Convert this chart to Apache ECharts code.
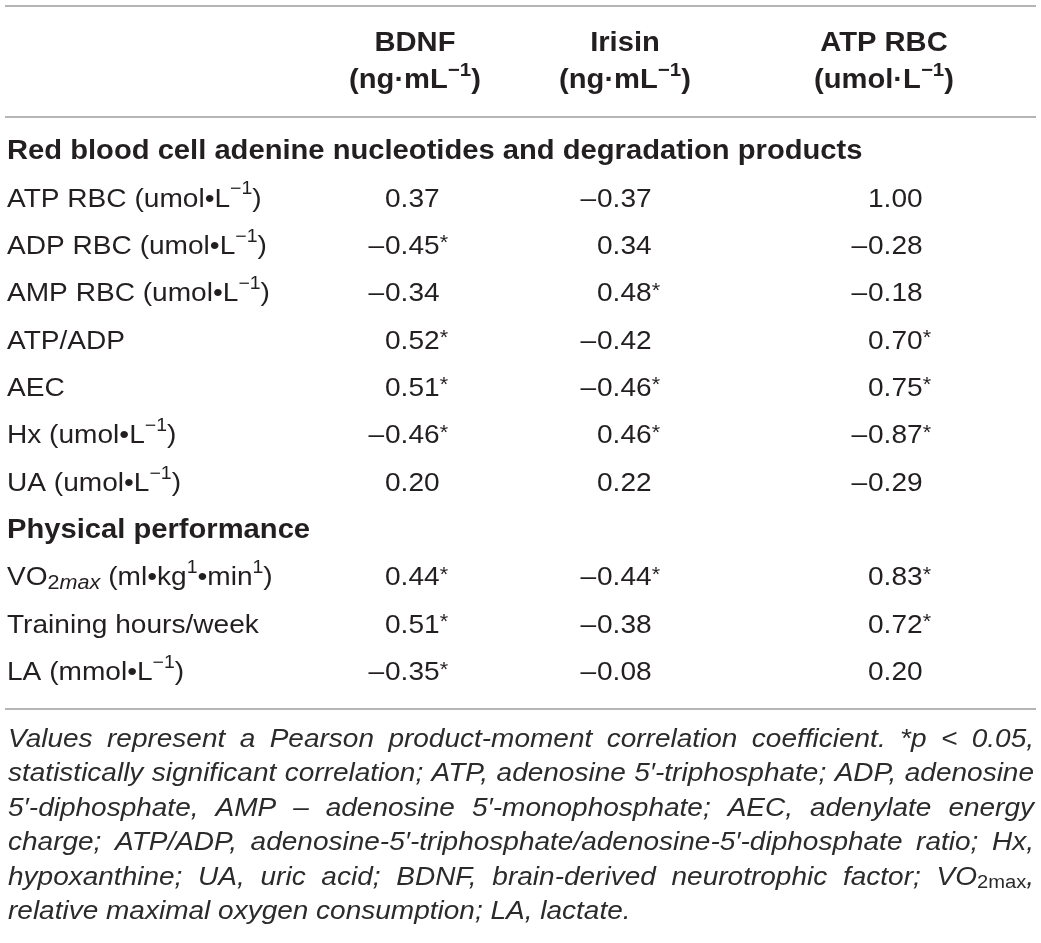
<!DOCTYPE html>
<html><head><meta charset="utf-8">
<script src="https://cdn.jsdelivr.net/npm/echarts@6/dist/echarts.min.js"></script>
<style>html,body{margin:0;padding:0;background:#fff}#c{width:1041px;height:943px}</style>
</head><body><div id="c"></div>
<script>
// ---------- data ----------
const columnHeaders = ['BDNF', 'Irisin', 'ATP RBC'];
const columnUnits = ['(ng·mL{sup|−1})', '(ng·mL{sup|−1})', '(umol·L{sup|−1})'];
const sectionTitles = ['Red blood cell adenine nucleotides and degradation products', 'Physical performance'];
const section1Rows = ['ATP RBC (umol•L{sup|−1})', 'ADP RBC (umol•L{sup|−1})', 'AMP RBC (umol•L{sup|−1})', 'ATP/ADP', 'AEC', 'Hx (umol•L{sup|−1})', 'UA (umol•L{sup|−1})'];
const section2Rows = ['VO{sub|2}{subi|max} (ml•kg{sup|1}•min{sup|1})', 'Training hours/week', 'LA (mmol•L{sup|−1})'];
const bdnf     = [0.37, -0.45, -0.34, 0.52, 0.51, -0.46, 0.20, 0.44, 0.51, -0.35];
const bdnfSig  = [0, 1, 0, 1, 1, 1, 0, 1, 1, 1];
const irisin    = [-0.37, 0.34, 0.48, -0.42, -0.46, 0.46, 0.22, -0.44, -0.38, -0.08];
const irisinSig = [0, 0, 1, 0, 1, 1, 0, 1, 0, 0];
const atpRbc    = [1.00, -0.28, -0.18, 0.70, 0.75, -0.87, -0.29, 0.83, 0.72, 0.20];
const atpRbcSig = [0, 0, 0, 1, 1, 1, 0, 1, 1, 0];
const footnoteLines = [
  'Values represent a Pearson product-moment correlation coefficient. *p < 0.05,',
  'statistically significant correlation; ATP, adenosine 5′-triphosphate; ADP, adenosine',
  '5′-diphosphate, AMP – adenosine 5′-monophosphate; AEC, adenylate energy',
  'charge; ATP/ADP, adenosine-5′-triphosphate/adenosine-5′-diphosphate ratio; Hx,',
  'hypoxanthine; UA, uric acid; BDNF, brain-derived neurotrophic factor; VO{sub|2max},',
  'relative maximal oxygen consumption; LA, lactate.'
];

// ---------- layout / style ----------
const W = 1041;
const FONT = "'Liberation Sans', Arial, Helvetica, sans-serif";
const INK = '#231f20';
const NOTE_INK = '#2b2b2b';
const SX = 1.08;
const NOTE_SX = 1.12;
const NOTE_FS = 25;
const colAnchor = [7, 385, 597, 868];
const headCenter = [415, 625, 884];
const ruleY = [6, 117, 709];
const ruleX = [5, 1036];
const noteLeft = 8, noteRight = 1034, noteTop = 740, notePitch = 34.4;

const labelRich = {
  sup:  {fontSize: 18, fontFamily: FONT, fill: INK, lineHeight: 18, verticalAlign: 'top'},
  sub:  {fontSize: 20, fontFamily: FONT, fill: INK, lineHeight: 27, verticalAlign: 'bottom', padding: [0, 0, 4, 0]},
  subi: {fontSize: 20, fontFamily: FONT, fontStyle: 'italic', fill: INK, lineHeight: 27, verticalAlign: 'bottom', padding: [0, 0, 4, 0]}
};
const numRich = {
  ast: {fontSize: 20, fontFamily: FONT, fill: INK, lineHeight: 20, verticalAlign: 'top'}
};

// ---------- build rows ----------
const rowNames = [sectionTitles[0], ...section1Rows, sectionTitles[1], ...section2Rows];
const cells = [];
const valueCols = [[bdnf, bdnfSig], [irisin, irisinSig], [atpRbc, atpRbcSig]];
let dataRow = 0;
rowNames.forEach((name, r) => {
  const isSection = sectionTitles.includes(name);
  cells.push({x: colAnchor[0], row: r, kind: isSection ? 'section' : 'label', text: name});
  if (!isSection) {
    valueCols.forEach(([vals, sig], ci) => {
      const v = vals[dataRow];
      cells.push({x: colAnchor[ci + 1], row: r, kind: 'num', neg: v < 0,
        text: Math.abs(v).toFixed(2) + (sig[dataRow] ? '{ast|*}' : '')});
    });
    dataRow++;
  }
});

function renderItem(params, api) {
  const c = cells[params.dataIndex];
  const p = api.coord([api.value(0), api.value(1)]);
  if (c.kind === 'section') {
    return {type: 'text', x: p[0], y: p[1], scaleX: SX,
      style: {text: c.text, fontSize: 27, fontWeight: 'bold', fontFamily: FONT, fill: INK, align: 'left', verticalAlign: 'middle'}};
  }
  if (c.kind === 'label') {
    return {type: 'text', x: p[0], y: p[1], scaleX: SX,
      style: {text: c.text, fontSize: 26, fontFamily: FONT, fill: INK, lineHeight: 38, align: 'left', verticalAlign: 'middle', rich: labelRich}};
  }
  const children = [];
  if (c.neg) {
    children.push({type: 'text', x: p[0] - 1, y: p[1], scaleX: SX,
      style: {text: '–', fontSize: 26, fontFamily: FONT, fill: INK, align: 'right', verticalAlign: 'middle'}});
  }
  children.push({type: 'text', x: p[0], y: p[1], scaleX: SX,
    style: {text: c.text, fontSize: 26, fontFamily: FONT, fill: INK, lineHeight: 26, align: 'left', verticalAlign: 'middle', rich: numRich}});
  return {type: 'group', children};
}

// ---------- footnote (justified) ----------
const noteBase = {fontSize: NOTE_FS, fontStyle: 'italic', fontFamily: FONT};
const noteRich = {sub: {fontSize: 18, fontFamily: FONT, fill: NOTE_INK, lineHeight: 20, verticalAlign: 'bottom'}};
const mctx = document.createElement('canvas').getContext('2d');
function segs(word) {
  const out = []; const re = /\{(\w+)\|([^}]*)\}/g; let last = 0, m;
  while ((m = re.exec(word))) {
    if (m.index > last) out.push({t: word.slice(last, m.index), s: null});
    out.push({t: m[2], s: m[1]}); last = re.lastIndex;
  }
  if (last < word.length) out.push({t: word.slice(last), s: null});
  return out;
}
function fontOf(st) { return (st.fontStyle || 'normal') + ' ' + (st.fontWeight || 'normal') + ' ' + st.fontSize + 'px ' + st.fontFamily; }
function measure(word) {
  return segs(word).reduce((w, p) => { mctx.font = fontOf(p.s ? noteRich[p.s] : noteBase); return w + mctx.measureText(p.t).width; }, 0);
}
const noteGraphics = footnoteLines.map((line, li) => {
  const words = line.split(' ');
  const widths = words.map(measure);
  const total = widths.reduce((a, b) => a + b, 0);
  const avail = (noteRight - noteLeft) / NOTE_SX;
  mctx.font = fontOf(noteBase);
  const last = li === footnoteLines.length - 1;
  const gap = last ? mctx.measureText(' ').width : (avail - total) / (words.length - 1);
  let x = 0;
  const children = words.map((w, i) => {
    const el = {type: 'text', x: x, y: 0,
      style: {text: w, fontSize: NOTE_FS, fontStyle: 'italic', fontFamily: FONT, fill: NOTE_INK, lineHeight: 28, align: 'left', verticalAlign: 'middle', rich: noteRich}};
    x += widths[i] + gap;
    return el;
  });
  return {type: 'group', x: noteLeft, y: noteTop + li * notePitch, scaleX: NOTE_SX, children};
});

// ---------- header & rules ----------
const headRich = {sup: {fontSize: 19, fontWeight: 'bold', fontFamily: FONT, fill: INK, lineHeight: 17, verticalAlign: 'top'}};
const headGraphics = [];
columnHeaders.forEach((h, i) => {
  headGraphics.push({type: 'text', x: headCenter[i], y: 44, scaleX: SX,
    style: {text: h, fontSize: 27, fontWeight: 'bold', fontFamily: FONT, fill: INK, align: 'center', verticalAlign: 'middle'}});
  headGraphics.push({type: 'text', x: headCenter[i], y: 81, scaleX: SX,
    style: {text: columnUnits[i], fontSize: 27, fontWeight: 'bold', fontFamily: FONT, fill: INK, lineHeight: 40, align: 'center', verticalAlign: 'middle', rich: headRich}});
});
const ruleGraphics = ruleY.map(y => ({type: 'line', shape: {x1: ruleX[0], y1: y, x2: ruleX[1], y2: y},
  style: {stroke: '#9d9d9d', lineWidth: 1.5}}));

// ---------- chart ----------
const band = (673 - 152) / (rowNames.length - 1);
const chart = echarts.init(document.getElementById('c'), null, {renderer: 'canvas'});
chart.setOption({
  animation: false,
  backgroundColor: '#ffffff',
  grid: {left: 0, right: 0, top: 152 - band / 2, bottom: 943 - (673 + band / 2), outerBoundsMode: 'none', containLabel: false},
  xAxis: {type: 'value', min: 0, max: W, show: false},
  yAxis: {type: 'category', inverse: true, data: rowNames, show: false},
  series: [{
    type: 'custom',
    renderItem: renderItem,
    encode: {x: 0, y: 1},
    data: cells.map(c => [c.x, c.row]),
    clip: false,
    silent: true
  }],
  graphic: [...ruleGraphics, ...headGraphics, ...noteGraphics]
});
</script>
</body></html>
